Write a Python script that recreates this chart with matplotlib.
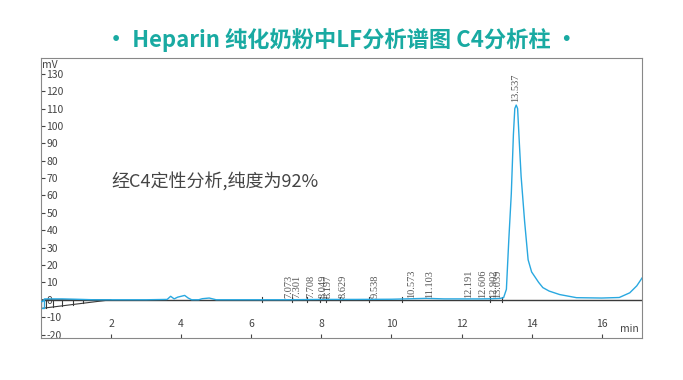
import matplotlib.pyplot as plt

plt.rcParams["font.family"] = ["Noto Sans CJK SC", "DejaVu Sans"]

# chromatogram trace (min, mV)
t = [0.0, 0.05, 0.1, 0.3, 0.6, 1.0, 1.5, 2.0, 3.0, 3.6, 3.7, 3.8, 3.9, 4.0, 4.1, 4.2, 4.3,
     4.5, 4.6, 4.8, 5.0, 6.0, 7.0, 8.0, 9.0, 10.0, 11.0, 11.5, 12.0, 12.5, 12.9, 13.1,
     13.2, 13.28, 13.35, 13.42, 13.48, 13.52, 13.56, 13.6, 13.65, 13.7, 13.8, 13.9,
     14.0, 14.1, 14.2, 14.32, 14.5, 14.8, 15.28, 16.0, 16.5, 16.8, 17.0, 17.15]
mv = [-1, -1, 0.5, 0.5, 0.5, 0.3, 0, 0, 0, 0.2, 2, 0.5, 1.5, 2, 2.5, 1, 0,
      0, 0.6, 1, 0, 0, 0, 0.2, 0.2, 0.3, 0.8, 0.5, 0.5, 0.5, 0.6, 0.8,
      1.2, 6, 35, 61, 95, 110, 112, 110, 90, 71, 45, 23,
      16, 13, 10, 7, 5, 3, 1.2, 1, 1.3, 4, 8, 12.5]

peaks = [7.073, 7.301, 7.708, 8.049, 8.197, 8.629, 9.538, 10.573, 11.103,
         12.191, 12.606, 12.902, 13.039, 13.537]
markers = [6.31, 7.17, 7.6, 7.97, 8.14, 8.54, 9.37, 10.31, 12.8, 13.15]

# baseline drift triangle at the start
tri_x = [0.0, 2.0, 0.0]
tri_y = [-5, 0, 0]
tri_ticks = [0.15, 0.35, 0.6, 0.9, 1.2]

fig = plt.figure(figsize=(6.83, 3.8), dpi=100)
ax = fig.add_axes([0.060, 0.1105, 0.880, 0.7365])

ax.axhline(0, color="#3a3a3a", lw=1.0, zorder=2)
ax.plot(tri_x, tri_y, color="#3a3a3a", lw=0.8, zorder=2)
for x in tri_ticks:
    ax.plot([x, x], [-5 + 5 * x / 2, 0], color="#3a3a3a", lw=0.8)
ax.plot([0.0, 0.0, 0.1, 0.1], [0, -5, -5, 0], color="#29a8e0", lw=1.0)
ax.plot(t, mv, color="#29a8e0", lw=1.0, zorder=3)

for x in markers:
    ax.plot([x, x], [-1.5, 1.5], color="#3a3a3a", lw=0.8)

for p in peaks:
    y = 113.5 if p == 13.537 else 1
    ax.text(p, y, f"{p:.3f}", rotation=90, ha="center", va="bottom",
            fontsize=7.5, color="#555555", family="Liberation Serif")

ax.set_xlim(0, 17.15)
ax.set_ylim(-22, 139)
ax.set_xticks([2, 4, 6, 8, 10, 12, 14, 16])
ax.set_yticks(range(-20, 131, 10))
ax.set_yticklabels([str(v) for v in range(-20, 131, 10)])
ax.tick_params(axis="y", direction="in", pad=-4, length=3, labelsize=7.5,
               colors="#444444")
for lab in ax.get_yticklabels():
    lab.set_horizontalalignment("left")
ax.tick_params(axis="x", direction="in", pad=-14, length=3, labelsize=7.5,
               colors="#444444")
for s in ax.spines.values():
    s.set_color("#888888")
    s.set_linewidth(0.8)

ax.text(0.002, 0.995, "mV", transform=ax.transAxes, ha="left", va="top",
        fontsize=7.5, color="#444444")
ax.text(0.995, 0.015, "min", transform=ax.transAxes, ha="right", va="bottom",
        fontsize=7.5, color="#444444")

ax.text(2.0, 68, "经C4定性分析,纯度为92%", fontsize=13, color="#444444",
        va="center", ha="left")

fig.text(0.5, 0.895, "• Heparin 纯化奶粉中LF分析谱图 C4分析柱 •", ha="center",
         va="center", fontsize=16, fontweight="bold", color="#19aaa2")

plt.savefig("out.png", dpi=100)
